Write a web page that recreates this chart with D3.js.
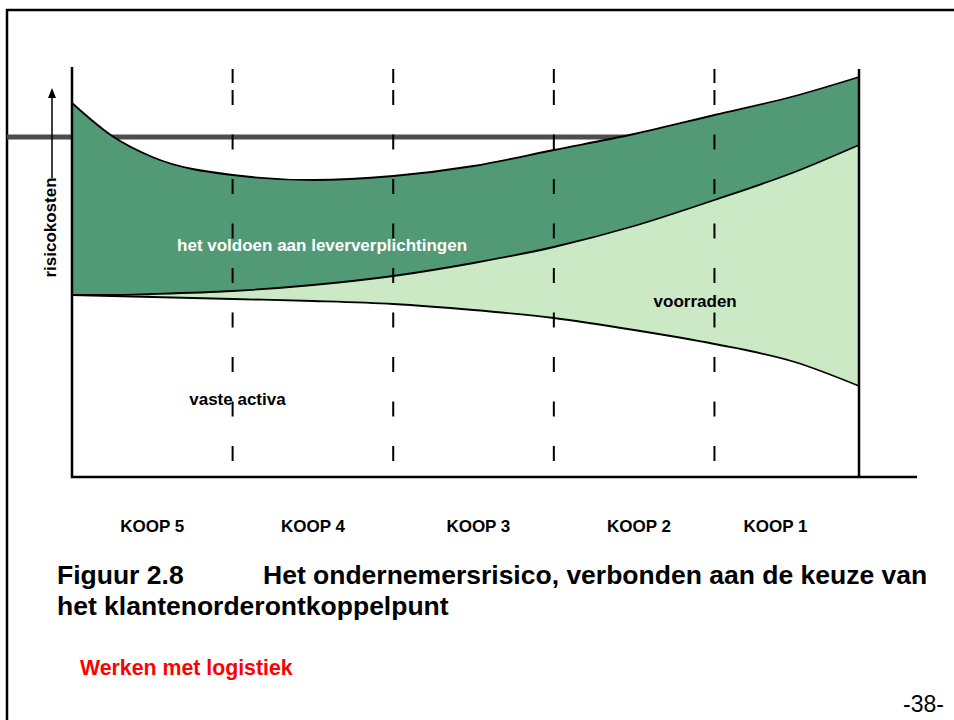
<!DOCTYPE html>
<html>
<head>
<meta charset="utf-8">
<script src="https://cdn.jsdelivr.net/npm/d3@7"></script>
<style>
  body { margin: 0; background: #fff; }
  text { font-family: Arial, "Liberation Sans", sans-serif; }
</style>
</head>
<body>
<div id="chart"></div>
<script>
// stages of the customer order decoupling point
var stages = ["KOOP 5", "KOOP 4", "KOOP 3", "KOOP 2", "KOOP 1"];
var stageLabelPos = [0.5, 1.5, 2.53, 3.53, 4.38];
var stageBounds = [1, 2, 3, 4];

// curves (arbitrary risk-cost units)
var xPts   = [0, 0.25, 0.5, 1, 1.5, 2, 2.5, 3, 3.5, 4, 4.5, 4.9];
var topVal = [374, 341, 320, 302, 297, 301, 311, 327, 343, 362, 381, 400];
var midVal = [182, 182, 183, 186, 192, 201, 214, 230, 251, 277, 305, 332];
var lowVal = [182, 181, 180, 178, 176, 173, 167, 159, 147, 133, 115, 91];
var refLevel = 340;

var areaLabels = [
  {text: "het voldoen aan leververplichtingen", x: 1.557, v: 226, fill: "#fff"},
  {text: "voorraden", x: 3.88, v: 170, fill: "#000"},
  {text: "vaste activa", x: 1.03, v: 72, fill: "#000"}
];

var W = 954, H = 720;
var plot = {left: 72, right: 859, top: 67, bottom: 477};

var svg = d3.select("#chart").append("svg")
  .attr("width", W)
  .attr("height", H);

var x = d3.scaleLinear().domain([0, 4.9]).range([plot.left, plot.right]);
var y = d3.scaleLinear().domain([0, 410]).range([plot.bottom, plot.top]);

var rows = xPts.map(function(d, i) {
  return {x: d, top: topVal[i], mid: midVal[i], low: lowVal[i]};
});

// page frame
svg.append("path")
  .attr("d", "M7," + H + "V10H" + W)
  .attr("fill", "none")
  .attr("stroke", "#000")
  .attr("stroke-width", 2.5);

// reference level (drawn under the areas)
svg.append("line")
  .attr("x1", 7).attr("x2", plot.right)
  .attr("y1", y(refLevel)).attr("y2", y(refLevel))
  .attr("stroke", "#4d4d4d")
  .attr("stroke-width", 5);

var curve = d3.curveMonotoneX;

svg.append("path")
  .datum(rows)
  .attr("fill", "#529a75")
  .attr("d", d3.area().curve(curve)
    .x(function(d) { return x(d.x); })
    .y0(function(d) { return y(d.mid); })
    .y1(function(d) { return y(d.top); }));

svg.append("path")
  .datum(rows)
  .attr("fill", "#cce9c5")
  .attr("d", d3.area().curve(curve)
    .x(function(d) { return x(d.x); })
    .y0(function(d) { return y(d.low); })
    .y1(function(d) { return y(d.mid); }));

["top", "mid", "low"].forEach(function(k) {
  svg.append("path")
    .datum(rows)
    .attr("fill", "none")
    .attr("stroke", "#000")
    .attr("stroke-width", 1.8)
    .attr("d", d3.line().curve(curve)
      .x(function(d) { return x(d.x); })
      .y(function(d) { return y(d[k]); }));
});

// dashed stage boundaries
stageBounds.forEach(function(b) {
  svg.append("line")
    .attr("x1", x(b)).attr("x2", x(b))
    .attr("y1", 69).attr("y2", 83)
    .attr("stroke", "#000").attr("stroke-width", 2);
  svg.append("line")
    .attr("x1", x(b)).attr("x2", x(b))
    .attr("y1", 90).attr("y2", 461)
    .attr("stroke", "#000").attr("stroke-width", 2)
    .attr("stroke-dasharray", "15,29.5");
});

// axes
svg.append("path")
  .attr("d", "M" + plot.left + "," + plot.top + "V" + plot.bottom + "H917")
  .attr("fill", "none").attr("stroke", "#000").attr("stroke-width", 2.5);
svg.append("line")
  .attr("x1", plot.right).attr("x2", plot.right)
  .attr("y1", 69).attr("y2", plot.bottom)
  .attr("stroke", "#000").attr("stroke-width", 2.5);

// y label with arrow
svg.append("text")
  .attr("transform", "translate(56,227.5) rotate(-90)")
  .attr("text-anchor", "middle")
  .style("font-size", "17px").style("font-weight", "bold")
  .text("risicokosten");
svg.append("line")
  .attr("x1", 52).attr("x2", 52).attr("y1", 178).attr("y2", 96)
  .attr("stroke", "#000").attr("stroke-width", 1.5);
svg.append("path")
  .attr("d", "M52,88L48,98L56,98Z")
  .attr("fill", "#000");

// area labels
areaLabels.forEach(function(d) {
  svg.append("text")
    .attr("x", x(d.x)).attr("y", y(d.v))
    .attr("text-anchor", "middle")
    .attr("fill", d.fill)
    .style("font-size", "17px").style("font-weight", "bold")
    .text(d.text);
});

// stage labels
svg.selectAll(".stage")
  .data(stages)
  .enter().append("text")
  .attr("class", "stage")
  .attr("x", function(d, i) { return x(stageLabelPos[i]); })
  .attr("y", 532)
  .attr("text-anchor", "middle")
  .style("font-size", "17px").style("font-weight", "bold")
  .text(function(d) { return d; });

// caption
svg.append("text").attr("x", 57).attr("y", 584)
  .style("font-size", "26.5px").style("font-weight", "bold")
  .text("Figuur 2.8");
svg.append("text").attr("x", 263).attr("y", 584)
  .style("font-size", "26.5px").style("font-weight", "bold")
  .text("Het ondernemersrisico, verbonden aan de keuze van");
svg.append("text").attr("x", 57).attr("y", 615)
  .style("font-size", "26.5px").style("font-weight", "bold")
  .text("het klantenorderontkoppelpunt");

svg.append("text").attr("x", 80).attr("y", 675)
  .attr("fill", "#ff0000")
  .style("font-size", "21.3px").style("font-weight", "bold")
  .text("Werken met logistiek");

svg.append("text").attr("x", 944).attr("y", 712)
  .attr("text-anchor", "end")
  .style("font-size", "23px")
  .text("-38-");
</script>
</body>
</html>
